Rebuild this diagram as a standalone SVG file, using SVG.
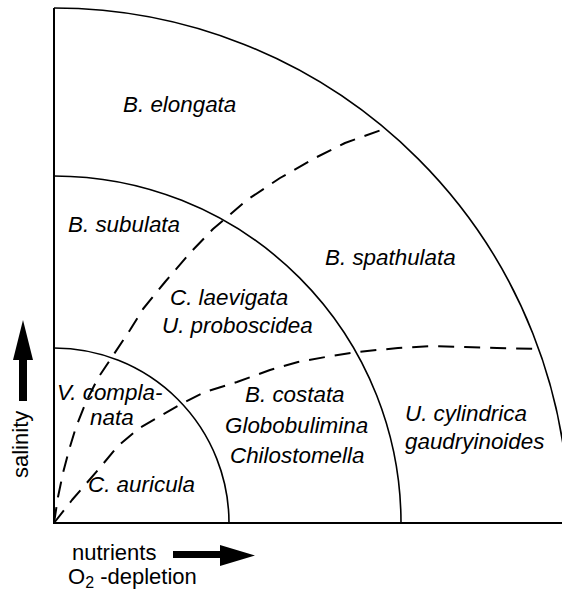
<svg xmlns="http://www.w3.org/2000/svg" width="562" height="591" viewBox="0 0 562 591">
<style>
.arc{fill:none;stroke:#000;stroke-width:1.6}
.axis{fill:none;stroke:#000;stroke-width:2}
.dash{fill:none;stroke:#000;stroke-width:2;stroke-dasharray:16 10;stroke-linejoin:round}
.sp{font-family:"Liberation Sans",Arial,sans-serif;font-style:italic;font-size:22.4px;fill:#000}
.lab{font-family:"Liberation Sans",Arial,sans-serif;font-size:22px;fill:#000}
</style>
<rect width="562" height="591" fill="#fff"/>
<g id="frame">
<path class="axis" d="M54,8 V523 H562"/>
</g>
<g id="arcs">
<path id="arc-inner" class="arc" d="M54,348 A175,175 0 0 1 229,523"/>
<path id="arc-middle" class="arc" d="M54,176 A347,347 0 0 1 401,523"/>
<path id="arc-outer" class="arc" d="M54,8 A515,515 0 0 1 569,523"/>
</g>
<g id="connectors">
<path class="dash" d="M54,523 L58,497 L63,473 L69,450 L76,427 L86,402 L98,378 L110,360 L130,330 L143,309 L165,282 L190,253 L213,229 L247,200 L280,178 L315,158 L345,143 L387,128"/>
<path class="dash" d="M54,523 L72,500 L98,470 L118,446 L138,429 L160,416 L183,403 L205,392 L237,382 L270,370 L298,362 L331,356 L357,352 L398,348 L432,346 L465,347 L497,348 L540,349"/>
</g>
<g id="region-b-elongata"><text class="sp" x="123" y="112">B. elongata</text></g>
<g id="region-b-subulata"><text class="sp" x="68" y="232">B. subulata</text></g>
<g id="region-b-spathulata"><text class="sp" x="325" y="265">B. spathulata</text></g>
<g id="region-c-laevigata">
<text class="sp" x="170" y="305">C. laevigata</text>
<text class="sp" x="162" y="333">U. proboscidea</text>
</g>
<g id="region-v-complanata">
<text class="sp" x="57" y="400">V. compla-</text>
<text class="sp" x="90" y="425">nata</text>
</g>
<g id="region-c-auricula"><text class="sp" x="88" y="492">C. auricula</text></g>
<g id="region-b-costata">
<text class="sp" x="245" y="402">B. costata</text>
<text class="sp" x="225" y="433">Globobulimina</text>
<text class="sp" x="230" y="463">Chilostomella</text>
</g>
<g id="region-u-cylindrica">
<text class="sp" x="405" y="421">U. cylindrica</text>
<text class="sp" x="405" y="449">gaudryinoides</text>
</g>
<g id="axis-salinity">
<path d="M23,320 L33,360 L27,360 L27,401 L19,401 L19,360 L13,360 Z" fill="#000"/>
<text class="lab" transform="translate(28,478) rotate(-90)" font-size="20">salinity</text>
</g>
<g id="axis-nutrients">
<text class="lab" x="72" y="560">nutrients</text>
<path d="M173,551 L220,551 L220,545 L255,555.5 L220,566 L220,558 L173,558 Z" fill="#000"/>
<text class="lab" x="68" y="584">O<tspan font-size="16" dy="4">2</tspan><tspan dy="-4"> -depletion</tspan></text>
</g>
</svg>
